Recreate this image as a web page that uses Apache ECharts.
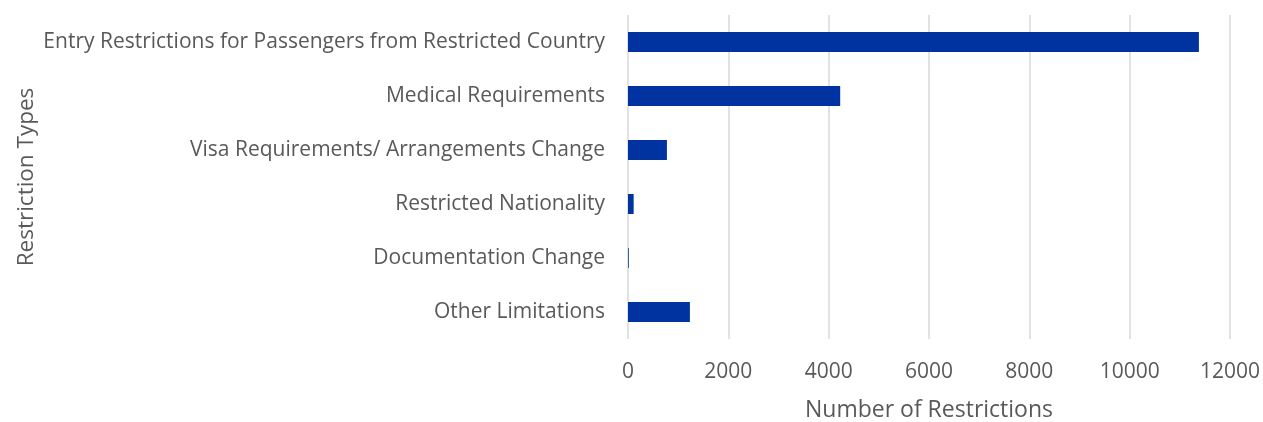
<!DOCTYPE html>
<html><head><meta charset="utf-8">
<script src="https://cdn.jsdelivr.net/npm/echarts@6/dist/echarts.min.js"></script>
<style>html,body{margin:0;padding:0;background:#fff}#c{width:1263px;height:422px}</style>
</head><body><div id="c"></div>
<script>
const categories = [
  "Entry Restrictions for Passengers from Restricted Country",
  "Medical Requirements",
  "Visa Requirements/ Arrangements Change",
  "Restricted Nationality",
  "Documentation Change",
  "Other Limitations"
];
const values = [11380, 4230, 776, 113, 15, 1234];
const xTicks = [0, 2000, 4000, 6000, 8000, 10000, 12000];

const chart = echarts.init(document.getElementById('c'));
const font = "'Open Sans', 'Noto Sans', sans-serif";
chart.setOption({
  animation: false,
  grid: {left: 628, right: 33, top: 15, bottom: 83, containLabel: false, outerBoundsMode: 'none'},
  xAxis: {
    type: 'value', min: xTicks[0], max: xTicks[xTicks.length-1], interval: 2000,
    name: 'Number of Restrictions', nameLocation: 'middle', nameGap: 60,
    nameTextStyle: {color: '#595959', fontSize: 23, fontFamily: font},
    axisLabel: {color: '#595959', fontSize: 21, fontFamily: font, margin: 23,
      formatter: v => String(v)},
    axisLine: {show: false}, axisTick: {show: false},
    splitLine: {lineStyle: {color: '#d9d9d9', width: 1.5}}
  },
  yAxis: {
    type: 'category', data: categories, inverse: true,
    name: 'Restriction Types', nameLocation: 'middle', nameGap: 590, nameRotate: 90,
    nameTextStyle: {color: '#595959', fontSize: 22.5, fontFamily: font},
    axisLabel: {color: '#595959', fontSize: 21, fontFamily: font, margin: 23},
    axisLine: {show: false}, axisTick: {show: false}
  },
  series: [{
    type: 'bar', data: values, barWidth: 20,
    itemStyle: {color: '#0033a0'}
  }]
});
</script></body></html>
